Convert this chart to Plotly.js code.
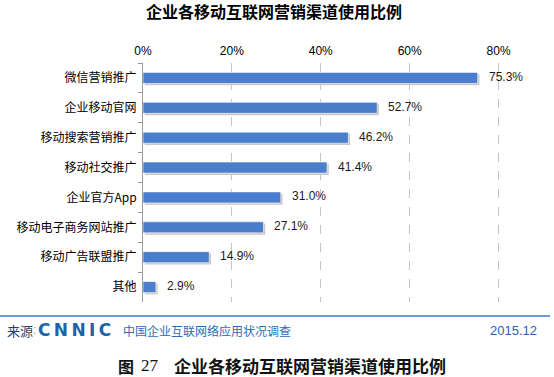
<!DOCTYPE html>
<html>
<head>
<meta charset="utf-8">
<script src="https://cdn.plot.ly/plotly-3.0.1.min.js"></script>
<style>html,body{margin:0;padding:0;background:#fff;}#chart{width:554px;height:377px;}</style>
</head>
<body>
<div id="chart"></div>
<script>
const categories = ["微信营销推广","企业移动官网","移动搜索营销推广","移动社交推广","企业官方App","移动电子商务网站推广","移动广告联盟推广","其他"];
const values = [75.3, 52.7, 46.2, 41.4, 31.0, 27.1, 14.9, 2.9];
const tickValues = [0, 20, 40, 60, 80];
const tickLabels = ["0%", "20%", "40%", "60%", "80%"];

const W = 554, H = 377;
const L = 143, R = 11, T = 63, B = 75;
const pw = W - L - R, ph = H - T - B;
const px = v => (v - L) / pw;
const py = v => (H - B - v) / ph;

const CJK = '"Noto Sans CJK SC", "Noto Sans", sans-serif';
const NUM = '"Liberation Sans", Arial, sans-serif';

const barW = 0.37;
const shadowDy = 0.06;

const shadow = {
  type: 'bar', orientation: 'h',
  y: categories, x: values, base: 0.4,
  width: barW, offset: -barW/2 + shadowDy,
  marker: {color: '#c9c9c9'},
  hoverinfo: 'skip', showlegend: false
};
const bars = {
  type: 'bar', orientation: 'h',
  y: categories, x: values,
  width: barW, offset: -barW/2,
  marker: {color: '#4a7dcb', line: {color: '#ffffff', width: 0.6}},
  showlegend: false
};

const annotations = values.map((v, i) => ({
  x: v, y: categories[i], xref: 'x', yref: 'y',
  text: v.toFixed(1) + '%', showarrow: false,
  xanchor: 'left', xshift: 9, yshift: 1,
  font: {family: NUM, size: 12, color: '#1a1a1a'}
}));

const th = '\u2009';
annotations.push(
  {xref:'paper', yref:'paper', x: px(5), y: py(330), xanchor:'left', yanchor:'middle', showarrow:false,
   text:'来源', font:{family: CJK, size: 13, color:'#1f3f70'}},
  {xref:'paper', yref:'paper', x: px(31), y: py(330), xanchor:'left', yanchor:'middle', showarrow:false,
   text:':', font:{family: NUM, size: 12, color:'#999999'}},
  {xref:'paper', yref:'paper', x: px(36), y: py(330), xanchor:'left', yanchor:'middle', showarrow:false,
   text:'<b>C' + th + 'N' + th + 'N' + th + 'I' + th + 'C</b>', font:{family: '"DejaVu Sans", sans-serif', size: 17, color:'#1d63ab'}},
  {xref:'paper', yref:'paper', x: px(121), y: py(330), xanchor:'left', yanchor:'middle', showarrow:false,
   text:'中国企业互联网络应用状况调查', font:{family: CJK, size: 12, color:'#2b6cb8'}},
  {xref:'paper', yref:'paper', x: px(539), y: py(330), xanchor:'right', yanchor:'middle', showarrow:false,
   text:'2015.12', font:{family: NUM, size: 13, color:'#2b5fab'}},
  {xref:'paper', yref:'paper', x: px(116), y: py(365.5), xanchor:'left', yanchor:'middle', showarrow:false,
   text:'<b>图</b>', font:{family: CJK, size: 16, color:'#111111'}},
  {xref:'paper', yref:'paper', x: px(139), y: py(365.5), xanchor:'left', yanchor:'middle', showarrow:false,
   text:'27', font:{family: '"Liberation Serif", serif', size: 17, color:'#111111'}},
  {xref:'paper', yref:'paper', x: px(172), y: py(365.5), xanchor:'left', yanchor:'middle', showarrow:false,
   text:'<b>企业各移动互联网营销渠道使用比例</b>', font:{family: CJK, size: 17, color:'#111111'}}
);

const layout = {
  width: W, height: H,
  margin: {l: L, r: R, t: T, b: B, pad: 0},
  paper_bgcolor: '#ffffff', plot_bgcolor: '#ffffff',
  barmode: 'overlay',
  title: {
    text: '<b>企业各移动互联网营销渠道使用比例</b>',
    font: {family: CJK, size: 16, color: '#000000'},
    x: 274 / W, xref: 'container', xanchor: 'center',
    y: 1 - 12.5 / H, yref: 'container', yanchor: 'middle'
  },
  xaxis: {
    side: 'top', range: [0, 90], fixedrange: true,
    tickmode: 'array', tickvals: tickValues, ticktext: tickLabels,
    tickfont: {family: NUM, size: 12, color: '#000000'},
    showgrid: true, gridcolor: '#c4c4c4', griddash: 'dash', gridwidth: 1,
    zeroline: false, showline: false, ticks: '', ticklabelstandoff: 5
  },
  yaxis: {
    type: 'category', autorange: 'reversed', fixedrange: true,
    tickfont: {family: CJK, size: 12, color: '#000000'},
    showline: true, linecolor: '#9a9a9a', linewidth: 1,
    ticks: 'outside', tickson: 'boundaries', ticklen: 4, tickcolor: '#9a9a9a',
    ticklabelstandoff: 3,
    showgrid: false, zeroline: false
  },
  shapes: [
    {type:'line', xref:'paper', yref:'paper', x0: px(0), x1: px(550), y0: py(316), y1: py(316),
     line:{color:'#3d78c9', width: 1.5}}
  ],
  annotations: annotations
};

Plotly.newPlot('chart', [shadow, bars], layout, {displayModeBar: false, staticPlot: true});
</script>
</body>
</html>
